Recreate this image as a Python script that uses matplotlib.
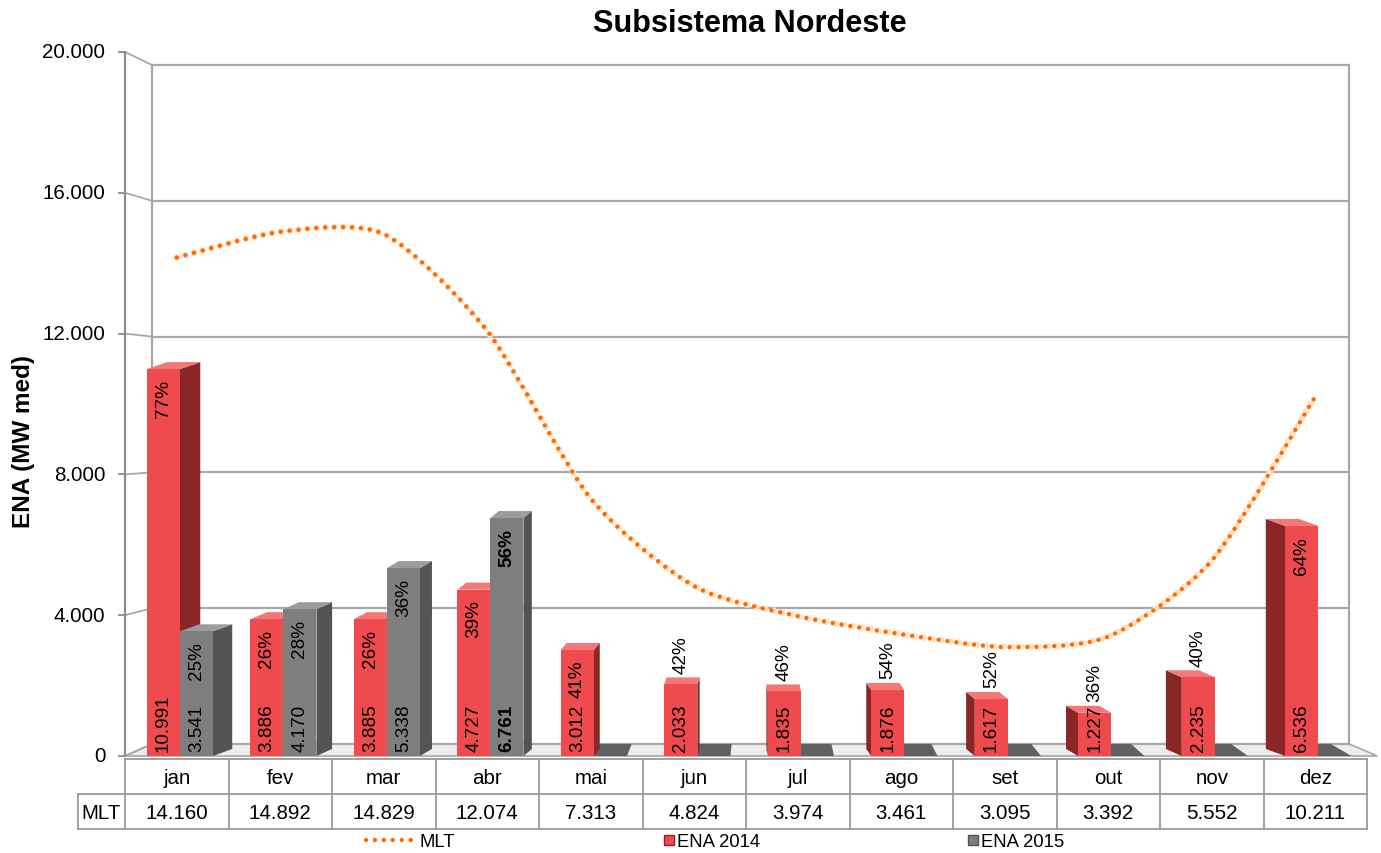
import matplotlib
matplotlib.use("Agg")
import matplotlib.pyplot as plt
from matplotlib.path import Path
from matplotlib.patches import PathPatch
from matplotlib.lines import Line2D
from matplotlib import font_manager

# ── Data ──────────────────────────────────────────────────────────────────────
months = ["jan", "fev", "mar", "abr", "mai", "jun", "jul", "ago", "set", "out", "nov", "dez"]
mlt = [14160, 14892, 14829, 12074, 7313, 4824, 3974, 3461, 3095, 3392, 5552, 10211]
ena_2014 = [10991, 3886, 3885, 4727, 3012, 2033, 1835, 1876, 1617, 1227, 2235, 6536]
pct_2014 = [77, 26, 26, 39, 41, 42, 46, 54, 52, 36, 40, 64]
ena_2015 = [3541, 4170, 5338, 6761]
pct_2015 = [25, 28, 36, 56]
yticks = [0, 4000, 8000, 12000, 16000, 20000]

W, H = 1381, 854


def br(v):
    return f"{v:,.0f}".replace(",", ".")


def fx(px):
    return px / W


def fy(py):
    return 1 - py / H


# pick a narrow font if it exists
def has_font(name):
    try:
        font_manager.findfont(font_manager.FontProperties(family=name), fallback_to_default=False)
        return True
    except ValueError:
        return False


if has_font("Liberation Sans Narrow"):
    FAM, SC = ["Liberation Sans Narrow", "DejaVu Sans"], 1.0
else:
    FAM, SC = ["Liberation Sans", "DejaVu Sans"], 0.92
plt.rcParams["font.family"] = FAM

RED, RED_SIDE, RED_TOP = "#EF4B4E", "#8A2626", "#F47878"
GRAY, GRAY_SIDE, GRAY_TOP = "#7E7E7E", "#545454", "#9C9C9C"
FLOOR_BAR = "#606060"
GRID = "#A8A8A8"
ORANGE, HALO = "#FF6A00", "#FFE2C4"

fig = plt.figure(figsize=(W / 100, H / 100), dpi=100)

# main area: x 0..12 (one unit per month), y 0..20000
ax = fig.add_axes([fx(125), fy(757), 1242 / W, 704 / H])
ax.set_xlim(0, 12)
ax.set_ylim(0, 20000)
ax.axis("off")

# ── 3D-ish walls ──────────────────────────────────────────────────────────────
XB0, XB1, YB0, K = 0.26, 11.83, 341, 0.9645


def back(v):
    return YB0 + v * K


ax.fill([0, 12.1, XB1, XB0], [0, 0, YB0, YB0], facecolor="#EDEDED",
        edgecolor=GRID, lw=1.2, zorder=1, clip_on=False)
for v in yticks:
    ax.plot([XB0, XB1], [back(v), back(v)], color=GRID, lw=1.6, zorder=1, clip_on=False)
    ax.plot([0, XB0], [v, back(v)], color=GRID, lw=1.3, zorder=1, clip_on=False)
    ax.plot([-0.06, 0], [v, v], color="#8C8C8C", lw=1.3, zorder=1, clip_on=False)
    ax.text(-0.19, v, br(v), ha="right", va="center", fontsize=16 * SC, clip_on=False)
ax.plot([0, 0], [0, 20000], color="#8C8C8C", lw=1.6, zorder=1, clip_on=False)
ax.plot([XB0, XB0], [YB0, back(20000)], color=GRID, lw=1.6, zorder=1)
ax.plot([XB1, XB1], [YB0, back(20000)], color=GRID, lw=1.6, zorder=1)

DH = 200


def bar3d(x0, x1, h, face, side, top, z):
    xc = (x0 + x1) / 2
    s = 0.035 * (6 - xc)
    xe = x1 if s > 0 else x0
    ax.fill([xe, xe + s, xe + s, xe], [0, DH, h + DH, h], color=side, zorder=z, lw=0)
    ax.fill([x0, x1, x1 + s, x0 + s], [h, h, h + DH, h + DH], color=top, zorder=z, lw=0)
    bars = ax.bar(x0, h, width=x1 - x0, align="edge", color=face, zorder=z + 0.1, lw=0)
    return bars[0]


def floor_bar(x0, x1, z):
    xc = (x0 + x1) / 2
    s = 0.035 * (6 - xc)
    ax.fill([x0, x1, x1 + s, x0 + s], [0, 0, YB0, YB0], color=FLOOR_BAR, zorder=z, lw=0)


FS_BAR = 14.8 * SC
for i, v in enumerate(ena_2014):
    x0, x1 = i + 0.21, i + 0.53
    xc = (x0 + x1) / 2
    if i < len(ena_2015):
        v2 = ena_2015[i]
        g0, g1 = i + 0.53, i + 0.85
        rb = bar3d(x0, x1, v, RED, RED_SIDE, RED_TOP, 3)
        gb = bar3d(g0, g1, v2, GRAY, GRAY_SIDE, GRAY_TOP, 4)
        bold = "bold" if i == 3 else "normal"
        gc = (g0 + g1) / 2
        ax.text(gc, 150, br(v2), rotation=90, ha="center", va="bottom",
                fontsize=FS_BAR, fontweight=bold, zorder=6)
        ax.text(gc, v2 - 280, f"{pct_2015[i]}%", rotation=90, ha="center", va="top",
                fontsize=FS_BAR, fontweight=bold, zorder=6)
    else:
        floor_bar(i + 0.53, i + 0.85, 2)
        rb = bar3d(x0, x1, v, RED, RED_SIDE, RED_TOP, 3)
    t = ax.text(xc, 150, br(v), rotation=90, ha="center", va="bottom",
                fontsize=FS_BAR, zorder=6)
    t.set_clip_path(rb)
    if v >= 2500:
        ax.text(xc, v - 280, f"{pct_2014[i]}%", rotation=90, ha="center", va="top",
                fontsize=FS_BAR, zorder=6)
    else:
        ax.text(xc, v + DH + 130, f"{pct_2014[i]}%", rotation=90, ha="center", va="bottom",
                fontsize=FS_BAR, zorder=6)

# ── MLT smoothed line (Bezier through the monthly points) ───────────────────
TENS = 1 / 8
pts = [(i + 0.5, m) for i, m in enumerate(mlt)]
verts = [pts[0]]
codes = [Path.MOVETO]
n = len(pts)
for i in range(n - 1):
    p0 = pts[max(i - 1, 0)]
    p1 = pts[i]
    p2 = pts[i + 1]
    p3 = pts[min(i + 2, n - 1)]
    c1 = (p1[0] + (p2[0] - p0[0]) * TENS, p1[1] + (p2[1] - p0[1]) * TENS)
    c2 = (p2[0] - (p3[0] - p1[0]) * TENS, p2[1] - (p3[1] - p1[1]) * TENS)
    verts += [c1, c2, p2]
    codes += [Path.CURVE4] * 3
path = Path(verts, codes)
halo = PathPatch(path, fill=False, edgecolor=HALO, lw=5.0, linestyle=(0, (0.01, 1.28)),
                 capstyle="round", zorder=7)
core = PathPatch(path, fill=False, edgecolor=ORANGE, lw=3.2, linestyle=(0, (0.01, 2.0)),
                 capstyle="round", zorder=8)
ax.add_patch(halo)
ax.add_patch(core)

# ── Data table ────────────────────────────────────────────────────────────────
tax = fig.add_axes([fx(125), fy(830), 1242 / W, 70 / H])
tax.set_xlim(0, 12)
tax.set_ylim(0, 2)
tax.axis("off")
LC = "#9A9A9A"
XL = -0.454
for k in range(13):
    tax.plot([k, k], [0, 2], color=LC, lw=1.3, clip_on=False)
tax.plot([XL, 12], [0, 0], color=LC, lw=1.3, clip_on=False)
tax.plot([XL, 12], [1, 1], color=LC, lw=1.3, clip_on=False)
tax.plot([0, 12], [2, 2], color=LC, lw=1.3, clip_on=False)
tax.plot([XL, XL], [0, 1], color=LC, lw=1.3, clip_on=False)
for i, (mname, m) in enumerate(zip(months, mlt)):
    tax.text(i + 0.5, 1.47, mname, ha="center", va="center", fontsize=16 * SC)
    tax.text(i + 0.5, 0.47, br(m), ha="center", va="center", fontsize=16 * SC)
tax.text(XL / 2, 0.47, "MLT", ha="center", va="center", fontsize=16 * SC, clip_on=False)

# ── Titles ────────────────────────────────────────────────────────────────────
fig.text(fx(750), fy(24), "Subsistema Nordeste", ha="center", va="center",
         fontsize=24 * SC, fontweight="bold")
fig.text(fx(24), fy(442), "ENA (MW med)", rotation=90, ha="center", va="center",
         fontsize=19 * SC, fontweight="bold")

# ── Legend ────────────────────────────────────────────────────────────────────
LFS = 14.5 * SC
fig.legend(handles=[Line2D([], [], color=ORANGE, lw=3.2, linestyle=(0, (0.01, 2.0)),
                           dash_capstyle="round")],
           labels=["MLT"], loc="center left", bbox_to_anchor=(fx(366), fy(843)),
           frameon=False, handlelength=2.5, handletextpad=0.4, borderpad=0,
           borderaxespad=0, fontsize=LFS)
fig.legend(handles=[Line2D([], [], marker="s", ls="none", color=RED, markersize=7,
                           markeredgecolor=RED_SIDE)],
           labels=["ENA 2014"], loc="center left", bbox_to_anchor=(fx(664), fy(843)),
           frameon=False, handlelength=0.5, handletextpad=0.2, borderpad=0,
           borderaxespad=0, fontsize=LFS)
fig.legend(handles=[Line2D([], [], marker="s", ls="none", color=GRAY, markersize=7,
                           markeredgecolor=GRAY_SIDE)],
           labels=["ENA 2015"], loc="center left", bbox_to_anchor=(fx(968), fy(843)),
           frameon=False, handlelength=0.5, handletextpad=0.2, borderpad=0,
           borderaxespad=0, fontsize=LFS)

fig.savefig("out.png", dpi=100)
